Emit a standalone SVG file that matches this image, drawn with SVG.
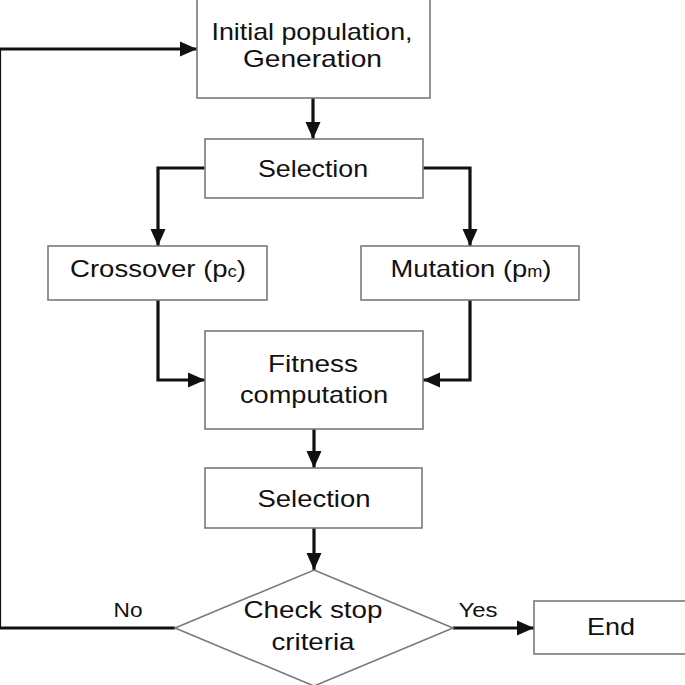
<svg xmlns="http://www.w3.org/2000/svg" width="685" height="685" viewBox="0 0 685 685">
<defs>
<style>
.box{fill:#fff;stroke:#7a7a7a;stroke-width:1.6}
.lbl{font-family:"Liberation Sans",Arial,sans-serif;font-size:24px;fill:#111;text-anchor:middle}
.small{font-size:16px}
.conn{fill:none;stroke:#111;stroke-width:3.2}
</style>
<marker id="ah" markerUnits="userSpaceOnUse" markerWidth="18" markerHeight="16" refX="17" refY="8" orient="auto">
<path d="M0,0.5 L17,8 L0,15.5 z" fill="#111"/>
</marker>
</defs>
<rect width="685" height="685" fill="#fff"/>
<g id="connectors">
<path class="conn" d="M175,628 H-0.5 V49 H197" marker-end="url(#ah)"/>
<path class="conn" d="M313,98 V139" marker-end="url(#ah)"/>
<path class="conn" d="M205,168 H158 V246" marker-end="url(#ah)"/>
<path class="conn" d="M423,168 H470 V246" marker-end="url(#ah)"/>
<path class="conn" d="M158,300 V380 H205" marker-end="url(#ah)"/>
<path class="conn" d="M470,300 V380 H423" marker-end="url(#ah)"/>
<path class="conn" d="M314,429 V468" marker-end="url(#ah)"/>
<path class="conn" d="M314,528 V570" marker-end="url(#ah)"/>
<path class="conn" d="M453,628 H534" marker-end="url(#ah)"/>
<text class="lbl" x="128" y="617" textLength="29" lengthAdjust="spacingAndGlyphs" style="font-size:20px">No</text>
<text class="lbl" x="478" y="617" textLength="39" lengthAdjust="spacingAndGlyphs" style="font-size:20px">Yes</text>
</g>
<g id="init">
<rect class="box" x="197" y="-10" width="233" height="108"/>
<text class="lbl" x="312" y="39.5" textLength="201" lengthAdjust="spacingAndGlyphs">Initial population,</text>
<text class="lbl" x="312.5" y="67" textLength="139" lengthAdjust="spacingAndGlyphs">Generation</text>
</g>
<g id="selection1">
<rect class="box" x="205" y="139" width="218" height="59"/>
<text class="lbl" x="313" y="176.5" textLength="110" lengthAdjust="spacingAndGlyphs">Selection</text>
</g>
<g id="crossover">
<rect class="box" x="48" y="246" width="219" height="54"/>
<text class="lbl" x="158" y="277" textLength="176" lengthAdjust="spacingAndGlyphs">Crossover (p<tspan class="small">c</tspan>)</text>
</g>
<g id="mutation">
<rect class="box" x="361" y="246" width="218" height="54"/>
<text class="lbl" x="471" y="277" textLength="161" lengthAdjust="spacingAndGlyphs">Mutation (p<tspan class="small">m</tspan>)</text>
</g>
<g id="fitness">
<rect class="box" x="205" y="331" width="218" height="98"/>
<text class="lbl" x="313" y="372" textLength="90" lengthAdjust="spacingAndGlyphs">Fitness</text>
<text class="lbl" x="314" y="403" textLength="148" lengthAdjust="spacingAndGlyphs">computation</text>
</g>
<g id="selection2">
<rect class="box" x="205" y="468" width="217" height="60"/>
<text class="lbl" x="314" y="506.5" textLength="113" lengthAdjust="spacingAndGlyphs">Selection</text>
</g>
<g id="check">
<polygon class="box" points="314,570 453,628 314,686 175,628"/>
<text class="lbl" x="313" y="618" textLength="139" lengthAdjust="spacingAndGlyphs">Check stop</text>
<text class="lbl" x="313" y="650" textLength="83" lengthAdjust="spacingAndGlyphs">criteria</text>
</g>
<g id="end">
<rect class="box" x="534" y="601" width="170" height="53"/>
<text class="lbl" x="611" y="635" textLength="48" lengthAdjust="spacingAndGlyphs">End</text>
</g>
</svg>
